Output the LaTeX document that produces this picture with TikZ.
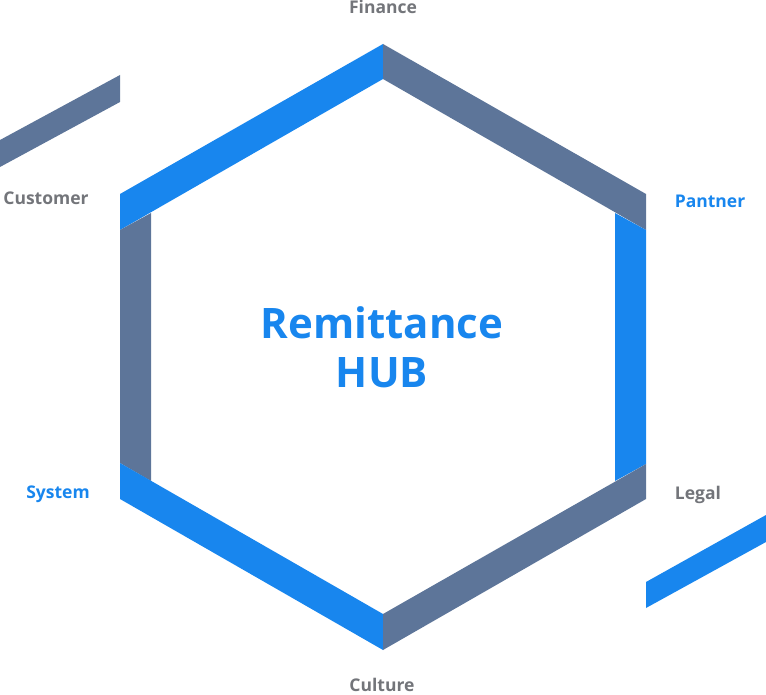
\documentclass[tikz,border=0pt]{standalone}
\usepackage{fontspec}
\setmainfont{Open Sans}
\definecolor{hubblue}{RGB}{24,134,238}
\definecolor{hubgray}{RGB}{93,117,153}
\definecolor{labelgray}{RGB}{115,117,122}
\begin{document}
\begin{tikzpicture}[x=1pt,y=-1pt,
    lbl/.style={font=\bfseries\fontsize{17.5}{17.5}\selectfont,anchor=base},
    lblgray/.style={lbl,text=labelgray},
    lblblue/.style={lbl,text=hubblue}]
  \useasboundingbox (0,0) rectangle (766,695);
  % side bands
  \fill[hubgray] (0,140) -- (120,75) -- (120,102) -- (0,167) -- cycle;
  \fill[hubblue] (646,582) -- (766,515) -- (766,542) -- (646,608) -- cycle;
  % hexagon
  \fill[hubblue] (120,194) -- (383,44) -- (383,79) -- (120,230) -- cycle;
  \fill[hubgray] (383,44) -- (646,194) -- (646,230) -- (383,79) -- cycle;
  \fill[hubgray] (120,230) -- (151,213) -- (151,481) -- (120,463) -- cycle;
  \fill[hubblue] (615,213) -- (646,230) -- (646,464) -- (615,481) -- cycle;
  \fill[hubblue] (120,463) -- (383,614) -- (383,650) -- (120,499) -- cycle;
  \fill[hubgray] (383,614) -- (646,464) -- (646,499) -- (383,650) -- cycle;
  % labels
  \node[lblgray] (fin) at (383,14) {Finance};
  \node[lblgray] (cust) at (46,205) {Customer};
  \node[lblblue] (part) at (710,208) {Pantner};
  \node[lblblue] (sys) at (58,498) {System};
  \node[lblgray] (legal) at (698,499) {Legal};
  \node[lblgray] (cult) at (382,691) {Culture};
  \node[text=hubblue,font=\bfseries\fontsize{42}{49}\selectfont,align=center]
    (hub) at (382,347) {Remittance\\HUB};
\end{tikzpicture}
\end{document}
